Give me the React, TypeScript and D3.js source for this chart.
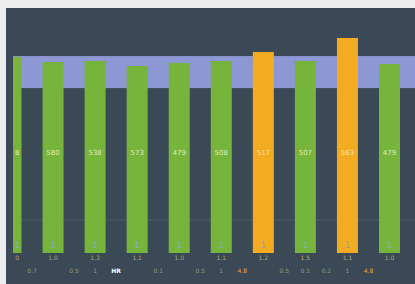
import React, { useEffect, useRef } from 'react';
import * as d3 from 'd3';

// bar heights (relative units), and the text printed in each bar
const barValues = [91.2, 88.8, 89.3, 87.0, 88.4, 89.3, 93.5, 89.3, 100, 87.9];
const barLabels = ['8', '580', '538', '573', '479', '508', '517', '507', '563', '479'];
const highlight = [false, false, false, false, false, false, true, false, true, false];
const baseLabels = ['0', '1.0', '1.3', '1.1', '1.0', '1.1', '1.2', '1.5', '1.1', '1.0'];
const footIndex = [0.5, 1.5, 2, 2.5, 3.5, 4.5, 5, 5.5, 6.5, 7, 7.5, 8, 8.5];
const footLabels = ['0.7', '0.5', '1', 'HR', '0.1', '0.5', '1', '4.8', '0.5', '0.1', '0.2', '1', '4.8'];
const bandRange = [76.7, 91.6];
const gridValue = 15.3;

const App = () => {
  const svgRef = useRef();

  useEffect(() => {
    document.body.style.margin = '0';
    const width = 415;
    const height = 284;
    const panel = { left: 6, top: 8 };
    const plotLeft = 13;
    const baseY = 253;

    d3.select(svgRef.current).selectAll('*').remove();
    const svg = d3.select(svgRef.current)
      .attr('width', width)
      .attr('height', height)
      .style('font-family', 'DejaVu Sans, sans-serif');

    svg.append('rect').attr('width', width).attr('height', height).attr('fill', '#eeeeee');
    svg.append('rect')
      .attr('x', panel.left).attr('y', panel.top)
      .attr('width', width - panel.left).attr('height', height - panel.top)
      .attr('fill', '#3a4955');

    svg.append('defs').append('clipPath').attr('id', 'plot')
      .append('rect').attr('x', plotLeft).attr('y', panel.top)
      .attr('width', width - plotLeft).attr('height', height - panel.top);

    const x = d3.scaleLinear().domain([0, 9]).range([11, 389.5]);
    const y = d3.scaleLinear().domain([0, 100]).range([baseY, 38]);
    const barW = 21;
    // centre of the visible part of a bar (the first one is cut by the plot edge)
    const cx = i => (Math.max(x(i) - barW / 2, plotLeft) + x(i) + barW / 2) / 2;

    const g = svg.append('g').attr('clip-path', 'url(#plot)');

    // target band
    g.append('rect')
      .attr('x', plotLeft).attr('width', width - plotLeft)
      .attr('y', y(bandRange[1])).attr('height', y(bandRange[0]) - y(bandRange[1]))
      .attr('fill', '#8d97d3');

    // faint grid line
    g.append('line')
      .attr('x1', plotLeft).attr('x2', width)
      .attr('y1', y(gridValue)).attr('y2', y(gridValue))
      .attr('stroke', '#4e5d68').attr('stroke-width', 1);

    g.selectAll('.bar')
      .data(barValues)
      .enter()
      .append('rect')
      .attr('x', (d, i) => x(i) - barW / 2)
      .attr('y', d => y(d))
      .attr('width', barW)
      .attr('height', d => y(0) - y(d))
      .attr('fill', (d, i) => (highlight[i] ? '#f3ac22' : '#77b43b'));

    g.selectAll('.val')
      .data(barLabels)
      .enter()
      .append('text')
      .attr('x', (d, i) => cx(i))
      .attr('y', y(45.5))
      .attr('text-anchor', 'middle')
      .attr('font-size', 7)
      .attr('fill', (d, i) => (highlight[i] ? '#fbe0a0' : '#d8efc0'))
      .text(d => d);

    // small marks near the bar base
    g.selectAll('.tick')
      .data(barValues)
      .enter()
      .append('text')
      .attr('x', (d, i) => cx(i))
      .attr('y', y(2.5))
      .attr('text-anchor', 'middle')
      .attr('font-size', 8)
      .attr('fill', (d, i) => (highlight[i] ? '#9aa0a8' : '#7fb0c4'))
      .text('1');

    g.selectAll('.base')
      .data(baseLabels)
      .enter()
      .append('text')
      .attr('x', (d, i) => cx(i))
      .attr('y', 260)
      .attr('text-anchor', 'middle')
      .attr('font-size', 6)
      .attr('fill', (d, i) => (i === 7 ? '#c9a45a' : '#a9a673'))
      .text(d => d);

    g.selectAll('.foot')
      .data(footLabels)
      .enter()
      .append('text')
      .attr('x', (d, i) => x(footIndex[i]))
      .attr('y', 273)
      .attr('text-anchor', 'middle')
      .attr('font-size', 6)
      .attr('font-weight', d => (d === 'HR' ? 'bold' : 'normal'))
      .attr('fill', d => (d === 'HR' ? '#ffffff' : d === '4.8' ? '#e9a832' : '#8c9a86'))
      .text(d => d);
  }, []);

  return (
    <svg ref={svgRef} style={{ display: 'block' }} />
  );
};

export default App;
